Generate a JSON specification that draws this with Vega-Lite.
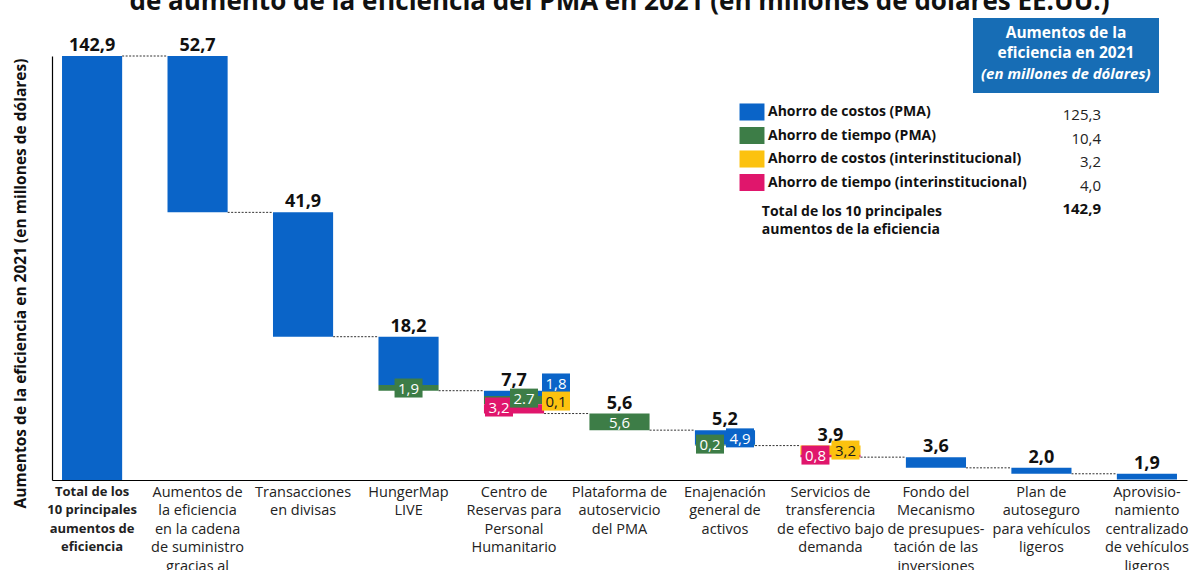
{
  "$schema": "https://vega.github.io/schema/vega-lite/v6.json",
  "autosize": {"type": "none"},
  "width": 1135,
  "height": 424,
  "padding": {"left": 52, "top": 56, "right": 6, "bottom": 90},
  "title": {
    "text": "de aumento de la eficiencia del PMA en 2021 (en millones de dólares EE.UU.)",
    "fontSize": 26, "fontWeight": "bold", "color": "#111", "anchor": "middle",
    "baseline": "alphabetic", "offset": -18
  },
  "datasets": {
    "segs": [
      {"cat": "Total de los|10 principales|aumentos de|eficiencia", "comp": "Ahorro de costos (PMA)", "y0": 0, "y1": 142.9},
      {"cat": "Aumentos de|la eficiencia|en la cadena|de suministro|gracias al", "comp": "Ahorro de costos (PMA)", "y0": 90.2, "y1": 142.9},
      {"cat": "Transacciones|en divisas", "comp": "Ahorro de costos (PMA)", "y0": 48.3, "y1": 90.2},
      {"cat": "HungerMap|LIVE", "comp": "Ahorro de costos (PMA)", "y0": 32.0, "y1": 48.3},
      {"cat": "HungerMap|LIVE", "comp": "Ahorro de tiempo (PMA)", "y0": 30.1, "y1": 32.0},
      {"cat": "Centro de|Reservas para|Personal|Humanitario", "comp": "Ahorro de costos (PMA)", "y0": 28.3, "y1": 30.1},
      {"cat": "Centro de|Reservas para|Personal|Humanitario", "comp": "Ahorro de tiempo (PMA)", "y0": 25.6, "y1": 28.3},
      {"cat": "Centro de|Reservas para|Personal|Humanitario", "comp": "Ahorro de costos (interinstitucional)", "y0": 25.5, "y1": 25.6},
      {"cat": "Centro de|Reservas para|Personal|Humanitario", "comp": "Ahorro de tiempo (interinstitucional)", "y0": 22.4, "y1": 25.5},
      {"cat": "Plataforma de|autoservicio|del PMA", "comp": "Ahorro de tiempo (PMA)", "y0": 16.8, "y1": 22.4},
      {"cat": "Enajenación|general de|activos", "comp": "Ahorro de costos (PMA)", "y0": 11.9, "y1": 16.8},
      {"cat": "Enajenación|general de|activos", "comp": "Ahorro de tiempo (PMA)", "y0": 11.6, "y1": 11.9},
      {"cat": "Servicios de|transferencia|de efectivo bajo|demanda", "comp": "Ahorro de costos (interinstitucional)", "y0": 8.5, "y1": 11.6},
      {"cat": "Servicios de|transferencia|de efectivo bajo|demanda", "comp": "Ahorro de tiempo (interinstitucional)", "y0": 7.7, "y1": 8.5},
      {"cat": "Fondo del|Mecanismo|de presupues-|tación de las|inversiones", "comp": "Ahorro de costos (PMA)", "y0": 4.1, "y1": 7.7},
      {"cat": "Plan de|autoseguro|para vehículos|ligeros", "comp": "Ahorro de costos (PMA)", "y0": 2.1, "y1": 4.1},
      {"cat": "Aprovisio-|namiento|centralizado|de vehículos|ligeros", "comp": "Ahorro de costos (PMA)", "y0": 0.2, "y1": 2.1}
    ],
    "bars": [
      {"cat": "Total de los|10 principales|aumentos de|eficiencia", "top": 142.9, "total": "142,9"},
      {"cat": "Aumentos de|la eficiencia|en la cadena|de suministro|gracias al", "top": 142.9, "total": "52,7"},
      {"cat": "Transacciones|en divisas", "top": 90.2, "total": "41,9"},
      {"cat": "HungerMap|LIVE", "top": 48.3, "total": "18,2"},
      {"cat": "Centro de|Reservas para|Personal|Humanitario", "top": 30.1, "total": "7,7"},
      {"cat": "Plataforma de|autoservicio|del PMA", "top": 22.4, "total": "5,6"},
      {"cat": "Enajenación|general de|activos", "top": 16.8, "total": "5,2"},
      {"cat": "Servicios de|transferencia|de efectivo bajo|demanda", "top": 11.6, "total": "3,9"},
      {"cat": "Fondo del|Mecanismo|de presupues-|tación de las|inversiones", "top": 7.7, "total": "3,6"},
      {"cat": "Plan de|autoseguro|para vehículos|ligeros", "top": 4.1, "total": "2,0"},
      {"cat": "Aprovisio-|namiento|centralizado|de vehículos|ligeros", "top": 2.1, "total": "1,9"}
    ],
    "links": [
      {"cat": "Total de los|10 principales|aumentos de|eficiencia", "to": "Aumentos de|la eficiencia|en la cadena|de suministro|gracias al", "level": 142.9},
      {"cat": "Aumentos de|la eficiencia|en la cadena|de suministro|gracias al", "to": "Transacciones|en divisas", "level": 90.2},
      {"cat": "Transacciones|en divisas", "to": "HungerMap|LIVE", "level": 48.3},
      {"cat": "HungerMap|LIVE", "to": "Centro de|Reservas para|Personal|Humanitario", "level": 30.1},
      {"cat": "Centro de|Reservas para|Personal|Humanitario", "to": "Plataforma de|autoservicio|del PMA", "level": 22.4},
      {"cat": "Plataforma de|autoservicio|del PMA", "to": "Enajenación|general de|activos", "level": 16.8},
      {"cat": "Enajenación|general de|activos", "to": "Servicios de|transferencia|de efectivo bajo|demanda", "level": 11.6},
      {"cat": "Servicios de|transferencia|de efectivo bajo|demanda", "to": "Fondo del|Mecanismo|de presupues-|tación de las|inversiones", "level": 7.7},
      {"cat": "Fondo del|Mecanismo|de presupues-|tación de las|inversiones", "to": "Plan de|autoseguro|para vehículos|ligeros", "level": 4.1},
      {"cat": "Plan de|autoseguro|para vehículos|ligeros", "to": "Aprovisio-|namiento|centralizado|de vehículos|ligeros", "level": 2.1}
    ],
    "tags": [
      {"cat": "HungerMap|LIVE", "comp": "Ahorro de tiempo (PMA)", "text": "1,9", "level": 31.0, "slot": "C"},
      {"cat": "Centro de|Reservas para|Personal|Humanitario", "comp": "Ahorro de tiempo (interinstitucional)", "text": "3,2", "level": 24.6, "slot": "L"},
      {"cat": "Centro de|Reservas para|Personal|Humanitario", "comp": "Ahorro de tiempo (PMA)", "text": "2.7", "level": 27.6, "slot": "R2"},
      {"cat": "Centro de|Reservas para|Personal|Humanitario", "comp": "Ahorro de costos (PMA)", "text": "1,8", "level": 32.7, "slot": "RR"},
      {"cat": "Centro de|Reservas para|Personal|Humanitario", "comp": "Ahorro de costos (interinstitucional)", "text": "0,1", "level": 26.6, "slot": "RR"},
      {"cat": "Plataforma de|autoservicio|del PMA", "comp": "Ahorro de tiempo (PMA)", "text": "5,6", "level": 19.6, "slot": "N"},
      {"cat": "Enajenación|general de|activos", "comp": "Ahorro de tiempo (PMA)", "text": "0,2", "level": 12.1, "slot": "L"},
      {"cat": "Enajenación|general de|activos", "comp": "Ahorro de costos (PMA)", "text": "4,9", "level": 14.2, "slot": "R"},
      {"cat": "Servicios de|transferencia|de efectivo bajo|demanda", "comp": "Ahorro de tiempo (interinstitucional)", "text": "0,8", "level": 8.4, "slot": "L"},
      {"cat": "Servicios de|transferencia|de efectivo bajo|demanda", "comp": "Ahorro de costos (interinstitucional)", "text": "3,2", "level": 10.1, "slot": "R"}
    ],
    "amounts": [
      {"comp": "Ahorro de costos (PMA)", "amount": "125,3", "unit": "(en millones de dólares)"},
      {"comp": "Ahorro de tiempo (PMA)", "amount": "10,4", "unit": "(en millones de dólares)"},
      {"comp": "Ahorro de costos (interinstitucional)", "amount": "3,2", "unit": "(en millones de dólares)"},
      {"comp": "Ahorro de tiempo (interinstitucional)", "amount": "4,0", "unit": "(en millones de dólares)"}
    ]
  },
  "layer": [
    {
      "data": {"name": "links"},
      "mark": {"type": "rule", "color": "#333", "strokeWidth": 1, "strokeDash": [2, 1.5]},
      "encoding": {
        "x": {"field": "cat", "type": "nominal", "bandPosition": 1},
        "x2": {"field": "to", "bandPosition": 0},
        "y": {"field": "level", "type": "quantitative"}
      }
    },
    {
      "data": {"name": "segs"},
      "mark": {"type": "bar"},
      "encoding": {
        "x": {"field": "cat", "type": "nominal",
          "scale": {"domain": ["Total de los|10 principales|aumentos de|eficiencia", "Aumentos de|la eficiencia|en la cadena|de suministro|gracias al", "Transacciones|en divisas", "HungerMap|LIVE", "Centro de|Reservas para|Personal|Humanitario", "Plataforma de|autoservicio|del PMA", "Enajenación|general de|activos", "Servicios de|transferencia|de efectivo bajo|demanda", "Fondo del|Mecanismo|de presupues-|tación de las|inversiones", "Plan de|autoseguro|para vehículos|ligeros", "Aprovisio-|namiento|centralizado|de vehículos|ligeros"], "paddingInner": 0.43, "paddingOuter": 0.095},
          "axis": {
            "title": null, "ticks": false, "labelAngle": 0, "labelAlign": "center", "labelPadding": 5, "bandPosition": 0.5,
            "labelBaseline": "top", "labelLineHeight": 18.5, "labelColor": "#222",
            "labelFontSize": {"condition": {"test": "indexof(datum.value, 'Total') === 0", "value": 13}, "value": 14.5},
            "labelFontWeight": {"condition": {"test": "indexof(datum.value, 'Total') === 0", "value": "bold"}, "value": "normal"},
            "labelExpr": "split(datum.value, '|')",
            "labelOverlap": false, "labelLimit": 300,
            "domainColor": "#000", "domainWidth": 1.2
          }
        },
        "y": {"field": "y1", "type": "quantitative",
          "scale": {"domain": [0, 142.9], "nice": false, "zero": true},
          "axis": {
            "title": "Aumentos de la eficiencia en 2021 (en millones de dólares)",
            "labels": false, "ticks": false, "grid": false,
            "domainColor": "#000", "domainWidth": 1.2,
            "titleFontSize": 15.5, "titleFontWeight": "bold", "titleColor": "#111",
            "titlePadding": 24, "titleY": 227
          }
        },
        "y2": {"field": "y0"},
        "color": {"field": "comp", "type": "nominal",
          "scale": {"domain": ["Ahorro de costos (PMA)", "Ahorro de tiempo (PMA)", "Ahorro de costos (interinstitucional)", "Ahorro de tiempo (interinstitucional)"],
                    "range": ["#0a64c8", "#3d7d47", "#fcc20f", "#e0166c"]},
          "legend": {
            "orient": "none", "legendX": 688, "legendY": 44, "padding": 0,
            "title": ["\u200b\u00a0\u00a0\u00a0\u00a0\u00a0\u00a0Total de los 10 principales", "\u200b\u00a0\u00a0\u00a0\u00a0\u00a0\u00a0aumentos de la eficiencia"],
            "titleOrient": "bottom", "titleAnchor": "start", "titleFontSize": 14, "titleFontWeight": "bold",
            "titleColor": "#111", "titleLineHeight": 18, "titlePadding": 14, "titleLimit": 400,
            "symbolType": "M-1.04,-0.71H1.04V0.71H-1.04Z", "symbolSize": 576, "symbolStrokeWidth": 0, "symbolOpacity": 1,
            "labelFontSize": 14, "labelFontWeight": "bold", "labelColor": "#111", "labelOffset": 4,
            "rowPadding": 2.5, "labelLimit": 400
          }
        }
      }
    },
    {
      "data": {"name": "tags"},
      "transform": [{"filter": {"field": "slot", "equal": "L"}}],
      "mark": {"type": "point", "shape": "M-1.4,-0.95H1.4V0.95H-1.4Z", "size": 400, "filled": true, "opacity": 1, "strokeWidth": 0, "xOffset": -15},
      "encoding": {
        "x": {"field": "cat", "type": "nominal"},
        "y": {"field": "level", "type": "quantitative"},
        "color": {"field": "comp", "type": "nominal"}
      }
    },
    {
      "data": {"name": "tags"},
      "transform": [{"filter": {"field": "slot", "equal": "C"}}],
      "mark": {"type": "point", "shape": "M-1.4,-0.95H1.4V0.95H-1.4Z", "size": 400, "filled": true, "opacity": 1, "strokeWidth": 0, "xOffset": 0},
      "encoding": {
        "x": {"field": "cat", "type": "nominal"},
        "y": {"field": "level", "type": "quantitative"},
        "color": {"field": "comp", "type": "nominal"}
      }
    },
    {
      "data": {"name": "tags"},
      "transform": [{"filter": {"field": "slot", "equal": "R"}}],
      "mark": {"type": "point", "shape": "M-1.4,-0.95H1.4V0.95H-1.4Z", "size": 400, "filled": true, "opacity": 1, "strokeWidth": 0, "xOffset": 15},
      "encoding": {
        "x": {"field": "cat", "type": "nominal"},
        "y": {"field": "level", "type": "quantitative"},
        "color": {"field": "comp", "type": "nominal"}
      }
    },
    {
      "data": {"name": "tags"},
      "transform": [{"filter": {"field": "slot", "equal": "R2"}}],
      "mark": {"type": "point", "shape": "M-1.4,-0.95H1.4V0.95H-1.4Z", "size": 400, "filled": true, "opacity": 1, "strokeWidth": 0, "xOffset": 10},
      "encoding": {
        "x": {"field": "cat", "type": "nominal"},
        "y": {"field": "level", "type": "quantitative"},
        "color": {"field": "comp", "type": "nominal"}
      }
    },
    {
      "data": {"name": "tags"},
      "transform": [{"filter": {"field": "slot", "equal": "RR"}}],
      "mark": {"type": "point", "shape": "M-1.4,-0.95H1.4V0.95H-1.4Z", "size": 400, "filled": true, "opacity": 1, "strokeWidth": 0, "xOffset": 42},
      "encoding": {
        "x": {"field": "cat", "type": "nominal"},
        "y": {"field": "level", "type": "quantitative"},
        "color": {"field": "comp", "type": "nominal"}
      }
    },
    {
      "data": {"name": "tags"},
      "transform": [{"filter": {"field": "slot", "equal": "L"}}],
      "mark": {"type": "text", "fontSize": 15, "baseline": "middle", "align": "center", "dy": 1, "xOffset": -15},
      "encoding": {
        "x": {"field": "cat", "type": "nominal"},
        "y": {"field": "level", "type": "quantitative"},
        "text": {"field": "text"},
        "color": {"condition": {"test": "datum.comp === 'Ahorro de costos (interinstitucional)'", "value": "#1a1a1a"}, "value": "#ffffff"}
      }
    },
    {
      "data": {"name": "tags"},
      "transform": [{"filter": {"oneOf": ["C", "N"], "field": "slot"}}],
      "mark": {"type": "text", "fontSize": 15, "baseline": "middle", "align": "center", "dy": 1, "xOffset": 0},
      "encoding": {
        "x": {"field": "cat", "type": "nominal"},
        "y": {"field": "level", "type": "quantitative"},
        "text": {"field": "text"},
        "color": {"condition": {"test": "datum.comp === 'Ahorro de costos (interinstitucional)'", "value": "#1a1a1a"}, "value": "#ffffff"}
      }
    },
    {
      "data": {"name": "tags"},
      "transform": [{"filter": {"field": "slot", "equal": "R"}}],
      "mark": {"type": "text", "fontSize": 15, "baseline": "middle", "align": "center", "dy": 1, "xOffset": 15},
      "encoding": {
        "x": {"field": "cat", "type": "nominal"},
        "y": {"field": "level", "type": "quantitative"},
        "text": {"field": "text"},
        "color": {"condition": {"test": "datum.comp === 'Ahorro de costos (interinstitucional)'", "value": "#1a1a1a"}, "value": "#ffffff"}
      }
    },
    {
      "data": {"name": "tags"},
      "transform": [{"filter": {"field": "slot", "equal": "R2"}}],
      "mark": {"type": "text", "fontSize": 15, "baseline": "middle", "align": "center", "dy": 1, "xOffset": 10},
      "encoding": {
        "x": {"field": "cat", "type": "nominal"},
        "y": {"field": "level", "type": "quantitative"},
        "text": {"field": "text"},
        "color": {"condition": {"test": "datum.comp === 'Ahorro de costos (interinstitucional)'", "value": "#1a1a1a"}, "value": "#ffffff"}
      }
    },
    {
      "data": {"name": "tags"},
      "transform": [{"filter": {"field": "slot", "equal": "RR"}}],
      "mark": {"type": "text", "fontSize": 15, "baseline": "middle", "align": "center", "dy": 1, "xOffset": 42},
      "encoding": {
        "x": {"field": "cat", "type": "nominal"},
        "y": {"field": "level", "type": "quantitative"},
        "text": {"field": "text"},
        "color": {"condition": {"test": "datum.comp === 'Ahorro de costos (interinstitucional)'", "value": "#1a1a1a"}, "value": "#ffffff"}
      }
    },
    {
      "data": {"name": "bars"},
      "mark": {"type": "text", "fontSize": 18, "fontWeight": "bold", "baseline": "alphabetic", "align": "center", "dy": -5, "color": "#111"},
      "encoding": {
        "x": {"field": "cat", "type": "nominal"},
        "y": {"field": "top", "type": "quantitative"},
        "text": {"field": "total"}
      }
    },
    {
      "data": {"name": "amounts"},
      "mark": {"type": "point", "size": 0, "opacity": 0},
      "encoding": {
        "strokeDash": {"field": "amount", "type": "nominal",
          "scale": {"domain": ["125,3", "10,4", "3,2", "4,0"]},
          "legend": {
            "orient": "none", "legendX": 1010, "legendY": 47, "padding": 0,
            "title": "142,9", "titleOrient": "bottom", "titleAnchor": "end",
            "titleFontSize": 15, "titleFontWeight": "bold", "titleColor": "#111", "titlePadding": 8,
            "symbolType": "M-1.04,-0.71H1.04V0.71H-1.04Z", "symbolSize": 576, "symbolOpacity": 0, "symbolStrokeWidth": 0,
            "labelFontSize": 15, "labelColor": "#222", "labelAlign": "right", "labelOffset": 4, "rowPadding": 2.5,
            "labelOverlap": false
          }
        },
        "shape": {"field": "unit", "type": "nominal",
          "legend": {
            "orient": "none", "legendX": 921, "legendY": -38, "padding": 8,
            "fillColor": "#176db5",
            "title": ["Aumentos de la", "eficiencia en 2021"], "titleAnchor": "middle", "titleAlign": "center",
            "titleFontSize": 15.5, "titleFontWeight": "bold", "titleColor": "#ffffff", "titleLineHeight": 20, "titlePadding": 1,
            "symbolSize": 484, "symbolOpacity": 0, "symbolStrokeWidth": 0, "labelOffset": -22,
            "labelFontSize": 15, "labelFontWeight": "bold", "labelFontStyle": "italic", "labelColor": "#ffffff", "labelLimit": 400
          }
        }
      }
    }
  ],
  "config": {
    "font": "Open Sans",
    "view": {"stroke": null}
  }
}
